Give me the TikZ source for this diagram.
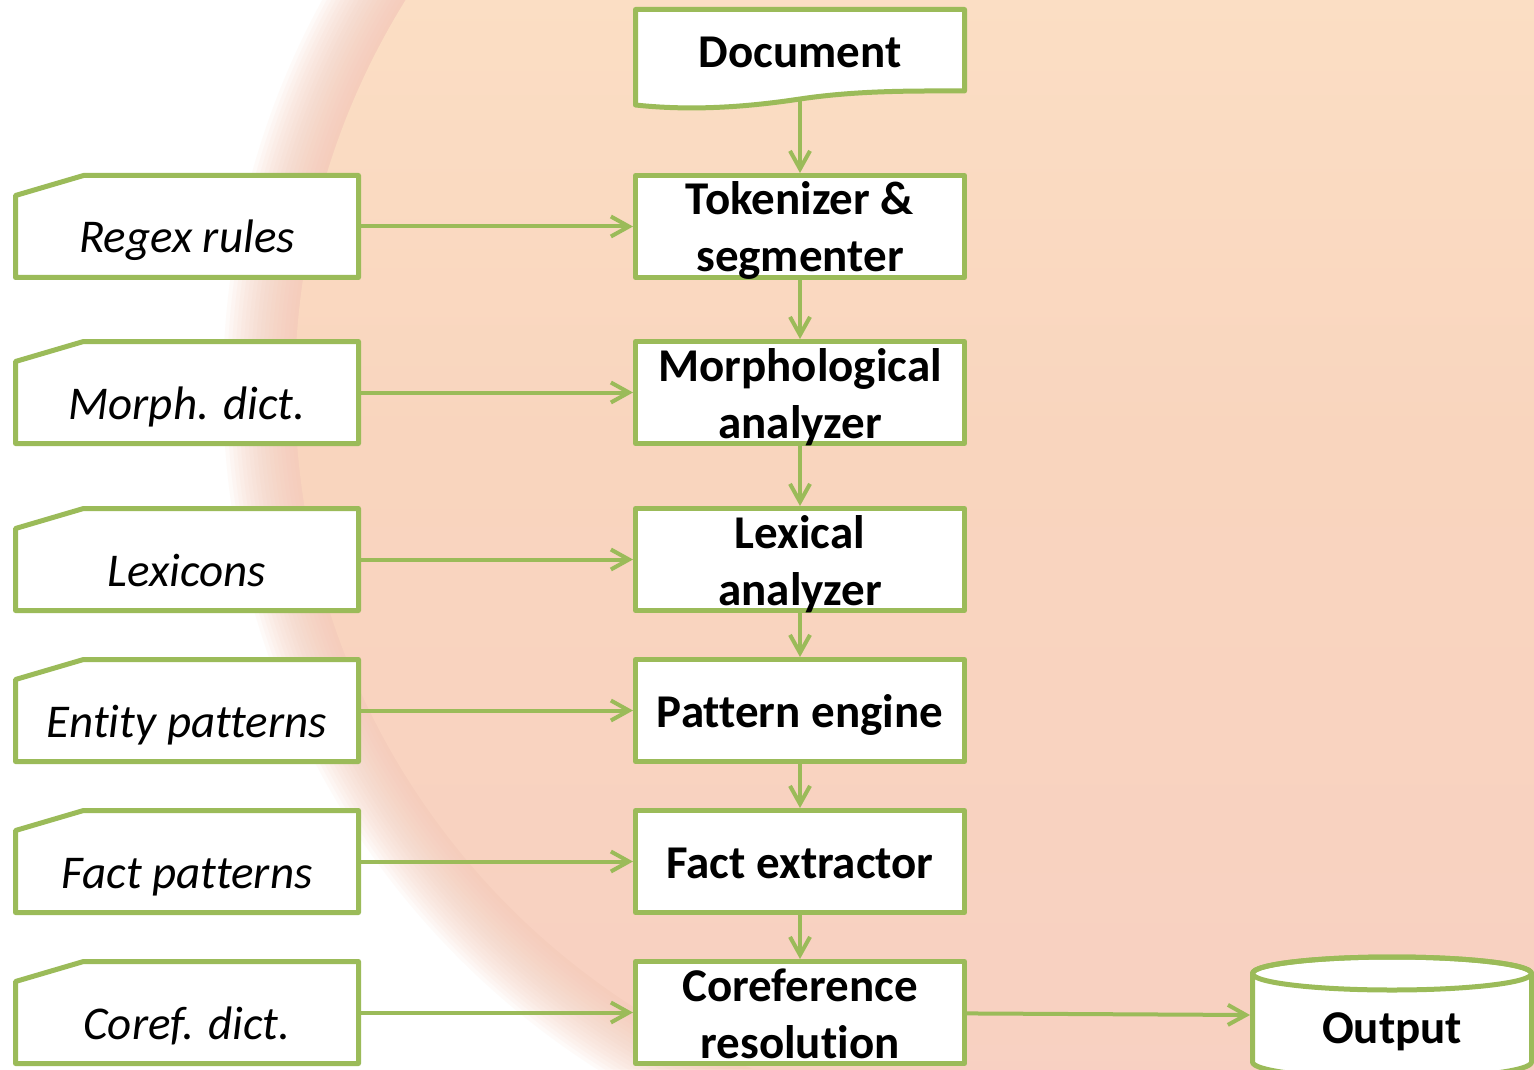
\documentclass[tikz,border=0pt]{standalone}
\usepackage{fontspec}
\setmainfont{Carlito}[Ligatures=NoCommon]
\usetikzlibrary{arrows.meta,backgrounds}
\definecolor{grn}{HTML}{9BBB59}
\definecolor{pkedge}{HTML}{F5C4AF}
\definecolor{pktop}{HTML}{FCE3C7}
\definecolor{pkmid}{HTML}{F9D5BE}
\definecolor{pkbot}{HTML}{F8D0C2}
\newcommand\btxt{\fontsize{23.5pt}{28.5pt}\selectfont\bfseries}
\newcommand\itxt{\fontsize{23.5pt}{28.5pt}\selectfont\itshape}
\begin{document}
\begin{tikzpicture}[x=0.5pt,y=-0.5pt,
  box/.style={draw=grn, line width=2.5pt, fill=white, line join=round},
  proc/.style={box, rectangle, minimum width=164.5pt, minimum height=51pt, inner sep=0pt, outer sep=1.25pt, font=\btxt, align=center},
  oneline/.style={text height=16.5pt, text depth=0pt},
  twoline/.style={text height=45.5pt, text depth=0pt},
  card/.style={rectangle, minimum width=171.5pt, minimum height=51pt, inner sep=0pt, outer sep=0pt, font=\itxt, text height=26.5pt, text depth=0pt},
  conn/.style={draw=grn, line width=2pt, -{Straight Barb[length=9pt,width=10pt]}},
  lbl/.style={inner sep=0pt, font=\btxt, text height=16.5pt, text depth=0pt}
]
\useasboundingbox (0,0) rectangle (1534,1069);
% background
\begin{scope}[on background layer]
  \clip (0,0) rectangle (1534,1069);
  \fill[white] (0,0) rectangle (1534,1069);
  \foreach \i in {1,...,18}
    \fill[pkedge, opacity=0.08] (1030,388) circle ({735+\i*4});
  \begin{scope}
    \clip (1030,388) circle (735);
    \shade[top color=pktop, bottom color=pkbot, middle color=pkmid] (0,-250) rectangle (1734,1130);
  \end{scope}
  \begin{scope}
    \clip (1030,0) rectangle (1534,1069);
    \shade[top color=pktop, bottom color=pkbot, middle color=pkmid] (0,-250) rectangle (1734,1130);
  \end{scope}
\end{scope}

% document shape
\draw[box] (635.5,9.5) -- (964.5,9.5) -- (964.5,91)
  .. controls (920,91) and (860,90) .. (800,99)
  .. controls (760,105) and (700,112) .. (635.5,105) -- cycle;
\node[lbl] (doc) at (800,51) {Document};
\coordinate (docb) at (800,99);

% process boxes
\node[proc,twoline] (tok) at (800,226.5) {Tokenizer \&\\segmenter};
\node[proc,twoline] (mor) at (800,392.5) {Morphological\\analyzer};
\node[proc,twoline] (lex) at (800,559.5) {Lexical\\analyzer};
\node[proc,oneline] (pat) at (800,710.5) {Pattern engine};
\node[proc,oneline] (fac) at (800,861.5) {Fact extractor};
\node[proc,twoline] (cor) at (800,1012.5) {Coreference\\resolution};

% resource cards
\node[card] (c1) at (187,226.5) {Regex rules};
\node[card] (c2) at (187,392.5) {Morph. dict.};
\node[card] (c3) at (187,559.5) {Lexicons};
\node[card] (c4) at (187,710.5) {Entity patterns};
\node[card] (c5) at (187,861.5) {Fact patterns};
\node[card] (c6) at (187,1012.5) {Coref. dict.};
\begin{scope}[on background layer]
  \foreach \n in {c1,c2,c3,c4,c5,c6}
    \draw[box] ([xshift=34pt]\n.north west) -- (\n.north east) -- (\n.south east)
      -- (\n.south west) -- ([yshift=-10pt]\n.north west) -- cycle;
\end{scope}

% output cylinder
\draw[box] (1252.5,973.5) -- (1252.5,1062)
  arc[start angle=180, end angle=0, x radius=139.5, y radius=16.5]
  -- (1531.5,973.5)
  arc[start angle=0, end angle=-180, x radius=139.5, y radius=16.5] -- cycle;
\draw[box, fill=none] (1392,973.5) ellipse [x radius=139.5, y radius=16.5];
\node[lbl] (out) at (1392,1026.5) {Output};
\coordinate (outl) at (1250,1015);

% connectors
\draw[conn] (docb) -- (tok);
\draw[conn] (tok) -- (mor);
\draw[conn] (mor) -- (lex);
\draw[conn] (lex) -- (pat);
\draw[conn] (pat) -- (fac);
\draw[conn] (fac) -- (cor);
\draw[conn] (c1) -- (tok);
\draw[conn] (c2) -- (mor);
\draw[conn] (c3) -- (lex);
\draw[conn] (c4) -- (pat);
\draw[conn] (c5) -- (fac);
\draw[conn] (c6) -- (cor);
\draw[conn] (cor) -- (outl);
\end{tikzpicture}
\end{document}
